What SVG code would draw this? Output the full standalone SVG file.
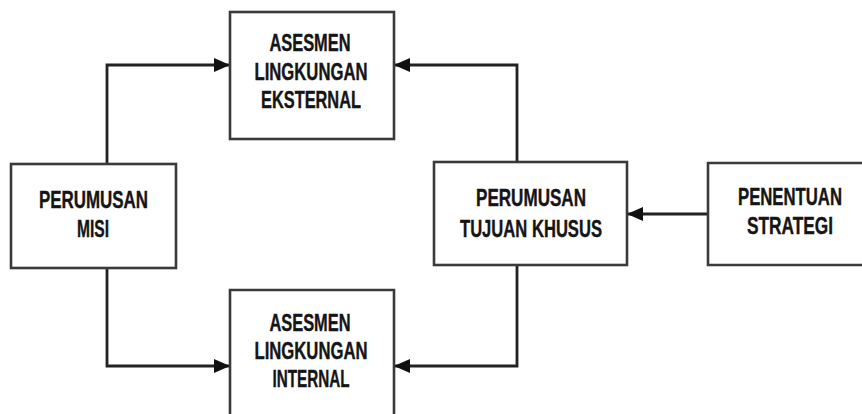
<svg xmlns="http://www.w3.org/2000/svg" width="862" height="414" viewBox="0 0 862 414">
<style>
.box{fill:#fff;stroke:#3a3a3a;stroke-width:2.6}
.open{fill:none;stroke:#3a3a3a;stroke-width:2.6}
.lbl{font-family:"Liberation Sans",Arial,sans-serif;font-weight:bold;font-size:24px;fill:#151515;stroke:#151515;stroke-width:0.4;text-anchor:middle}
.conn{fill:none;stroke:#222;stroke-width:2.8}
</style>
<defs>
<marker id="ah" markerUnits="userSpaceOnUse" markerWidth="16" markerHeight="16" viewBox="0 0 16 16" refX="15" refY="8" orient="auto">
<path d="M0,1 L16,8 L0,15 Z" fill="#111"/>
</marker>
</defs>
<rect width="862" height="414" fill="#fff"/>
<g id="connectors">
<path class="conn" d="M107,164 V65 H229" marker-end="url(#ah)"/>
<path class="conn" d="M107,268 V366 H229" marker-end="url(#ah)"/>
<path class="conn" d="M517,162 V65 H395" marker-end="url(#ah)"/>
<path class="conn" d="M517,265 V366 H395" marker-end="url(#ah)"/>
<path class="conn" d="M708,214 H628" marker-end="url(#ah)"/>
</g>
<g id="eksternal">
<rect class="box" x="230" y="12" width="164" height="127"/>
<text class="lbl" x="310" y="51" textLength="81" lengthAdjust="spacingAndGlyphs">ASESMEN</text>
<text class="lbl" x="311" y="80" textLength="113" lengthAdjust="spacingAndGlyphs">LINGKUNGAN</text>
<text class="lbl" x="311" y="108" textLength="100" lengthAdjust="spacingAndGlyphs">EKSTERNAL</text>
</g>
<g id="misi">
<rect class="box" x="11" y="164" width="165" height="104"/>
<text class="lbl" x="93.5" y="208" textLength="109" lengthAdjust="spacingAndGlyphs">PERUMUSAN</text>
<text class="lbl" x="93" y="237" textLength="32" lengthAdjust="spacingAndGlyphs">MISI</text>
</g>
<g id="internal">
<path class="open" d="M230,414 V290 H394 V414"/>
<text class="lbl" x="310" y="331" textLength="81" lengthAdjust="spacingAndGlyphs">ASESMEN</text>
<text class="lbl" x="311" y="359" textLength="113" lengthAdjust="spacingAndGlyphs">LINGKUNGAN</text>
<text class="lbl" x="311" y="387" textLength="77" lengthAdjust="spacingAndGlyphs">INTERNAL</text>
</g>
<g id="tujuan">
<rect class="box" x="434" y="162" width="193" height="103"/>
<text class="lbl" x="531" y="206" textLength="110" lengthAdjust="spacingAndGlyphs">PERUMUSAN</text>
<text class="lbl" x="531" y="237" textLength="142" lengthAdjust="spacingAndGlyphs">TUJUAN KHUSUS</text>
</g>
<g id="strategi">
<path class="open" d="M862,163 H708 V265 H862"/>
<text class="lbl" transform="translate(790,205) scale(0.7,1)" x="0" y="0" textLength="148.6" lengthAdjust="spacingAndGlyphs">PENENTUAN</text>
<text class="lbl" transform="translate(790,234) scale(0.7,1)" x="0" y="0" textLength="122.9" lengthAdjust="spacingAndGlyphs">STRATEGI</text>
</g>
</svg>
